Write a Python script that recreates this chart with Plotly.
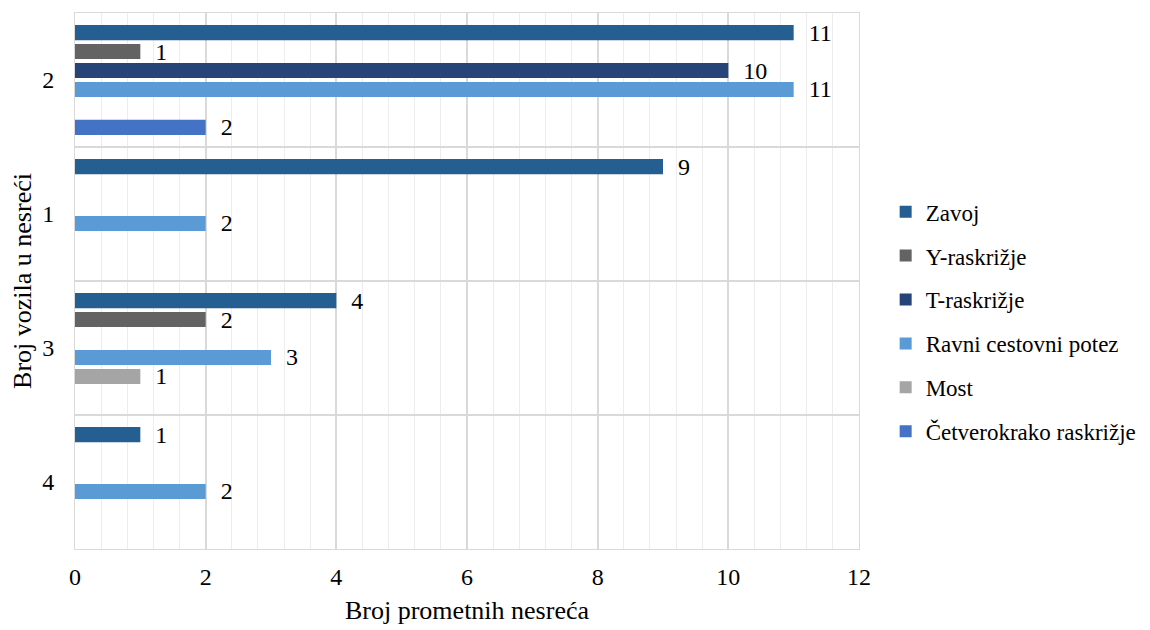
import plotly.graph_objects as go

# categories, bottom to top as in the chart
kategorije = ["4", "3", "1", "2"]

# values per series, same order as kategorije (None = no bar)
zavoj = [1, 4, 9, 11]
y_raskrizje = [None, 2, None, 1]
t_raskrizje = [None, None, None, 10]
ravni_potez = [2, 3, 2, 11]
most = [None, 1, None, None]
cetverokrako = [None, None, None, 2]

# drawn bottom-up inside each group, so first added ends up lowest
serije = [
    ("Četverokrako raskrižje", cetverokrako, "#4472C4"),
    ("Most", most, "#A5A5A5"),
    ("Ravni cestovni potez", ravni_potez, "#5B9BD5"),
    ("T-raskrižje", t_raskrizje, "#264478"),
    ("Y-raskrižje", y_raskrizje, "#636363"),
    ("Zavoj", zavoj, "#255E91"),
]

font = "Liberation Serif, Times New Roman, serif"

fig = go.Figure()
for i, (ime, vrijednosti, boja) in enumerate(serije):
    fig.add_trace(go.Bar(
        y=kategorije, x=vrijednosti, name=ime, orientation="h",
        marker=dict(color=boja, line=dict(width=0)),
        text=[("  " + str(v)) if v is not None else "" for v in vrijednosti],
        textposition="outside", cliponaxis=False, constraintext="none",
        outsidetextfont=dict(family=font, size=24, color="#000000"),
        legendgroup=ime, legendrank=len(serije) - i,
    ))

# page body has an 8px margin, so the figure is a bit smaller than the window
fig.update_layout(
    width=1142, height=622,
    barmode="group", bargap=0.15, bargroupgap=0.2,
    plot_bgcolor="white", paper_bgcolor="white",
    font=dict(family=font, size=24, color="#000000"),
    margin=dict(l=67, r=291, t=5, b=81, autoexpand=False),
    legend=dict(traceorder="grouped", x=1.034, y=0.424, yanchor="middle",
                font=dict(size=23), tracegroupgap=11,
                itemwidth=30),
    showlegend=True,
)
fig.update_xaxes(
    range=[0, 12], dtick=2, showgrid=True, gridcolor="#D9D9D9", gridwidth=1.5,
    minor=dict(dtick=0.4, showgrid=True, gridcolor="#EDEDED", gridwidth=1),
    zeroline=False, showline=True, linecolor="#D9D9D9", mirror=True,
    ticks="", ticklen=0, ticklabelstandoff=6, automargin=False,
    title=dict(text="Broj prometnih nesreća", font=dict(size=26), standoff=12),
    tickfont=dict(size=24),
)
fig.update_yaxes(
    type="category", categoryorder="array", categoryarray=kategorije,
    tickson="boundaries", showgrid=True, gridcolor="#D9D9D9", gridwidth=1.5,
    showline=True, linecolor="#D9D9D9", mirror=True, ticks="",
    ticklabelstandoff=15, automargin=False,
    title=dict(text="Broj vozila u nesreći", font=dict(size=26), standoff=4),
    tickfont=dict(size=24),
)

fig.write_html("out.html")
